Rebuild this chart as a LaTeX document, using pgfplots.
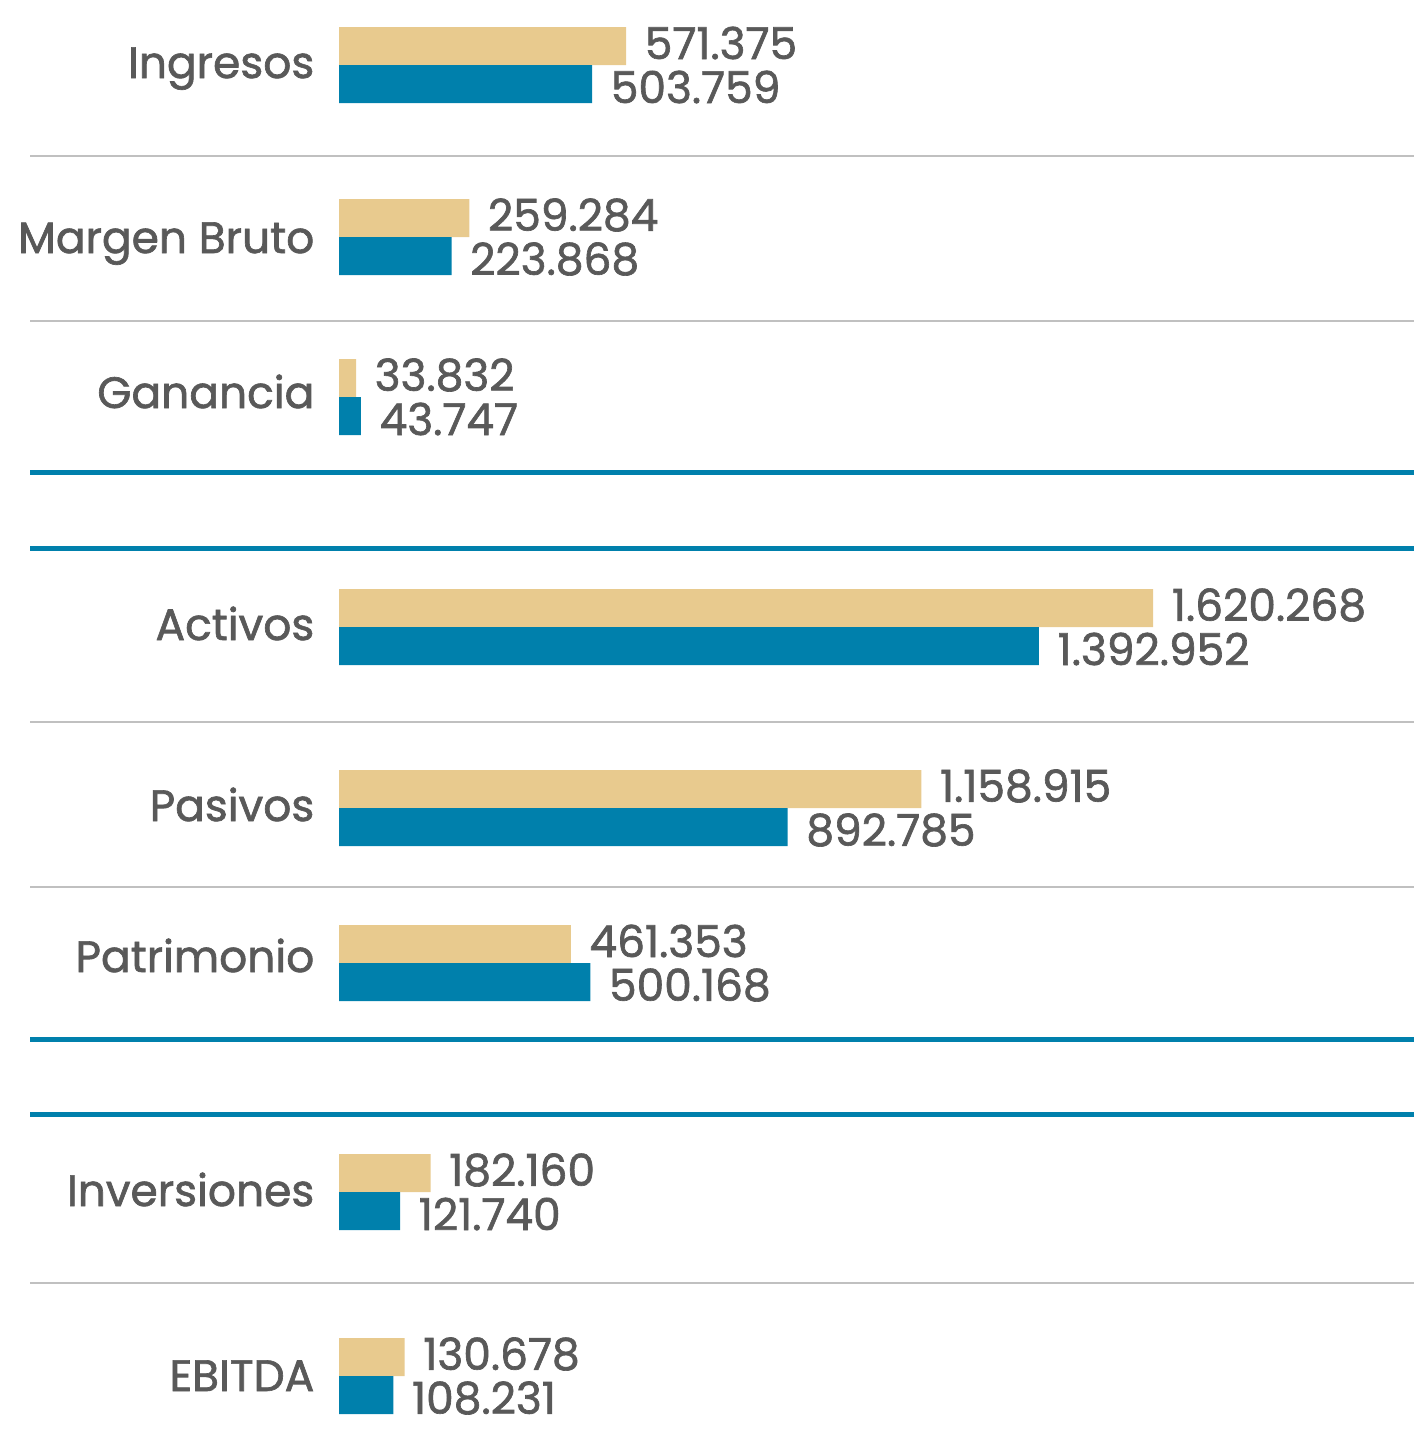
\documentclass[border=0pt]{standalone}
\usepackage{pgfplots}
\pgfplotsset{compat=1.18}
\usepackage{fontspec}
\setmainfont{Poppins}
\newfontfamily\lbl{Poppins}[FakeBold=1.5]
\definecolor{tan}{HTML}{E8CA8E}
\definecolor{blu}{HTML}{0080AC}
\definecolor{txt}{HTML}{595959}
\definecolor{sep}{HTML}{C0C0C0}
\begin{document}
\begin{tikzpicture}
\begin{axis}[
  name=ax,
  scale only axis, width=141.4mm, height=144.6mm,
  xmin=-674610, xmax=2139250, ymin=0, ymax=1446, y dir=reverse,
  axis lines=none, clip=false,
  xbar, bar width=38, bar shift=0pt,
  nodes near coords, point meta=explicit symbolic,
  nodes near coords style={font=\lbl\fontsize{12.5pt}{14pt}\selectfont, text=txt, anchor=west, inner sep=0pt, xshift=1.8mm},
]
\draw[sep, line width=0.15mm] (axis cs:-614900,156) -- (axis cs:2139250,156);
\draw[sep, line width=0.15mm] (axis cs:-614900,321) -- (axis cs:2139250,321);
\draw[sep, line width=0.15mm] (axis cs:-614900,722) -- (axis cs:2139250,722);
\draw[sep, line width=0.15mm] (axis cs:-614900,887) -- (axis cs:2139250,887);
\draw[sep, line width=0.15mm] (axis cs:-614900,1283) -- (axis cs:2139250,1283);
\draw[blu, line width=0.5mm] (axis cs:-614900,472) -- (axis cs:2139250,472);
\draw[blu, line width=0.5mm] (axis cs:-614900,548) -- (axis cs:2139250,548);
\draw[blu, line width=0.5mm] (axis cs:-614900,1039) -- (axis cs:2139250,1039);
\draw[blu, line width=0.5mm] (axis cs:-614900,1114) -- (axis cs:2139250,1114);
\addplot[fill=tan, draw=none, nodes near coords style={yshift=0.3mm}] table[meta=label] {
x y label
571375 46 571.375
259284 218 259.284
33832 378 33.832
1620268 608 1.620.268
1158915 789 1.158.915
461353 944 461.353
182160 1173 182.160
130678 1357 130.678
};
\addplot[fill=blu, draw=none, nodes near coords style={yshift=-0.3mm}] table[meta=label] {
x y label
503759 84 503.759
223868 256 223.868
43747 416 43.747
1392952 646 1.392.952
892785 827 892.785
500168 982 500.168
121740 1211 121.740
108231 1395 108.231
};
\begin{scope}[every node/.style={anchor=base east, inner sep=0pt, text=txt, font=\lbl\fontsize{12.5pt}{14pt}\selectfont}]
\node at (axis cs:-47760,78) {Ingresos};
\node at (axis cs:-47760,253) {Margen Bruto};
\node at (axis cs:-47760,408) {Ganancia};
\node at (axis cs:-47760,640) {Activos};
\node at (axis cs:-47760,821) {Pasivos};
\node at (axis cs:-47760,972) {Patrimonio};
\node at (axis cs:-47760,1206) {Inversiones};
\node at (axis cs:-47760,1391) {EBITDA};
\end{scope}
\end{axis}
\pgfresetboundingbox
\path (ax.south west) rectangle (ax.north east);
\end{tikzpicture}
\end{document}
